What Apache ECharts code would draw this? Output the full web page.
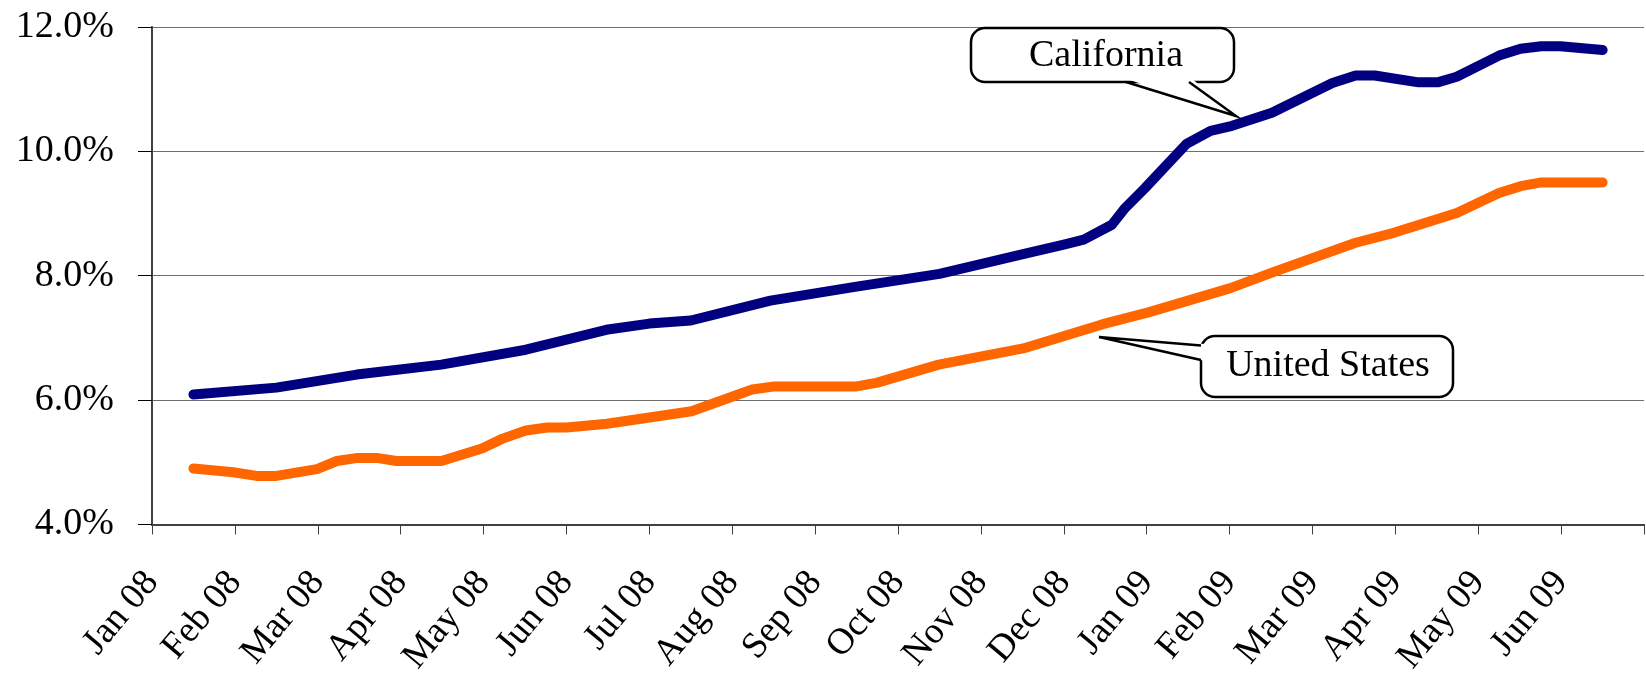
<!DOCTYPE html>
<html>
<head>
<meta charset="utf-8">
<script src="https://cdn.jsdelivr.net/npm/echarts@6/dist/echarts.min.js"></script>
<style>
  html, body { margin: 0; padding: 0; background: #fff; }
  #chart { width: 1646px; height: 678px; }
</style>
</head>
<body>
<div id="chart"></div>
<script>
// month tick labels (ticks sit on month boundaries)
const monthLabels = ['Jan 08', 'Feb 08', 'Mar 08', 'Apr 08', 'May 08', 'Jun 08', 'Jul 08', 'Aug 08', 'Sep 08',
  'Oct 08', 'Nov 08', 'Dec 08', 'Jan 09', 'Feb 09', 'Mar 09', 'Apr 09', 'May 09', 'Jun 09'];
const yTicks = [4, 6, 8, 10, 12];

// California: position in months since Jan 08, unemployment rate %
const caAt = [0.5, 1.5, 2.47, 3.49, 4.51, 5.48, 6.0, 6.5, 7.46, 8.48, 9.5, 10.52, 11.0, 11.24, 11.58, 11.74,
  11.98, 12.48, 12.77, 13.03, 13.51, 14.24, 14.52, 14.75, 15.28, 15.51, 15.74, 16.25, 16.51, 16.76, 16.99, 17.5];
const caRate = [6.09, 6.2, 6.41, 6.57, 6.81, 7.13, 7.23, 7.28, 7.6, 7.82, 8.03, 8.35, 8.5, 8.58, 8.82, 9.09,
  9.41, 10.12, 10.33, 10.41, 10.62, 11.1, 11.22, 11.22, 11.11, 11.11, 11.2, 11.54, 11.65, 11.69, 11.69, 11.63];

// United States
const usAt = [0.5, 0.98, 1.26, 1.5, 1.99, 2.23, 2.48, 2.71, 2.95, 3.49, 3.98, 4.23, 4.51, 4.77, 5.0, 5.49,
  6.51, 7.24, 7.51, 8.5, 8.75, 9.49, 10.51, 11.47, 12.02, 13.01, 13.51, 14.52, 14.98, 15.74, 16.25, 16.51, 16.76, 17.5];
const usRate = [4.9, 4.84, 4.78, 4.78, 4.89, 5.02, 5.07, 5.07, 5.02, 5.02, 5.22, 5.38, 5.51, 5.56, 5.56, 5.62,
  5.82, 6.17, 6.22, 6.22, 6.28, 6.57, 6.83, 7.22, 7.41, 7.8, 8.05, 8.53, 8.69, 9.01, 9.33, 9.44, 9.5, 9.5];

const zip = (xs, ys) => xs.map((x, i) => [x, ys[i]]);
const serif = 'Liberation Serif';

const chart = echarts.init(document.getElementById('chart'));

// callout boxes drawn on top of the plot
function callout(box, base, tip, label, textPos) {
  return [
    { type: 'rect', z: 100, shape: { x: box[0], y: box[1], width: box[2], height: box[3], r: 14 },
      style: { fill: '#fff', stroke: '#000', lineWidth: 2.5 } },
    { type: 'polygon', z: 101, shape: { points: [base[0], base[1], tip] },
      style: { fill: '#fff', stroke: null } },
    { type: 'polyline', z: 102, shape: { points: [base[2], tip, base[3]] },
      style: { fill: null, stroke: '#000', lineWidth: 2.5 } },
    { type: 'text', z: 103, style: { text: label, x: textPos[0], y: textPos[1], font: '38px "Liberation Serif"',
      fill: '#000', textAlign: 'center', textVerticalAlign: 'middle', align: 'center', verticalAlign: 'middle' } }
  ];
}

const option = {
  animation: false,
  backgroundColor: '#fff',
  grid: { left: 152, top: 27, right: -1, bottom: 148 },
  xAxis: {
    type: 'value',
    min: 0,
    max: 18,
    interval: 1,
    axisLine: { onZero: false, lineStyle: { color: '#404040', width: 2 } },
    axisTick: { length: 10, lineStyle: { color: '#404040', width: 1 } },
    axisLabel: {
      rotate: 50,
      margin: 52,
      fontFamily: serif,
      fontSize: 37,
      color: '#000',
      formatter: (v) => monthLabels[v] || ''
    },
    splitLine: { show: false }
  },
  yAxis: {
    type: 'value',
    min: yTicks[0],
    max: yTicks[yTicks.length - 1],
    interval: 2,
    axisLine: { show: true, lineStyle: { color: '#404040', width: 2 } },
    axisTick: { show: true, length: 14, lineStyle: { color: '#000', width: 1 } },
    axisLabel: {
      margin: 38,
      fontFamily: serif,
      fontSize: 38,
      color: '#000',
      formatter: (v) => v.toFixed(1) + '%'
    },
    splitLine: { lineStyle: { color: '#6e6e6e', width: 1 } }
  },
  series: [
    {
      name: 'California',
      type: 'line',
      data: zip(caAt, caRate),
      showSymbol: false,
      symbol: 'none',
      lineStyle: { color: '#000080', width: 10, cap: 'round', join: 'round' }
    },
    {
      name: 'United States',
      type: 'line',
      data: zip(usAt, usRate),
      showSymbol: false,
      symbol: 'none',
      lineStyle: { color: '#ff6600', width: 10, cap: 'round', join: 'round' }
    }
  ],
  graphic: [
    ...callout([971, 28, 263, 54], [[1124, 78], [1191, 78], [1126, 82], [1189, 82]], [1236, 116],
      'California', [1106, 56]),
    ...callout([1201, 336, 252, 61], [[1205, 344], [1205, 361], [1201, 345.5], [1201, 360]], [1099, 337],
      'United States', [1328, 366])
  ]
};

chart.setOption(option);
</script>
</body>
</html>
